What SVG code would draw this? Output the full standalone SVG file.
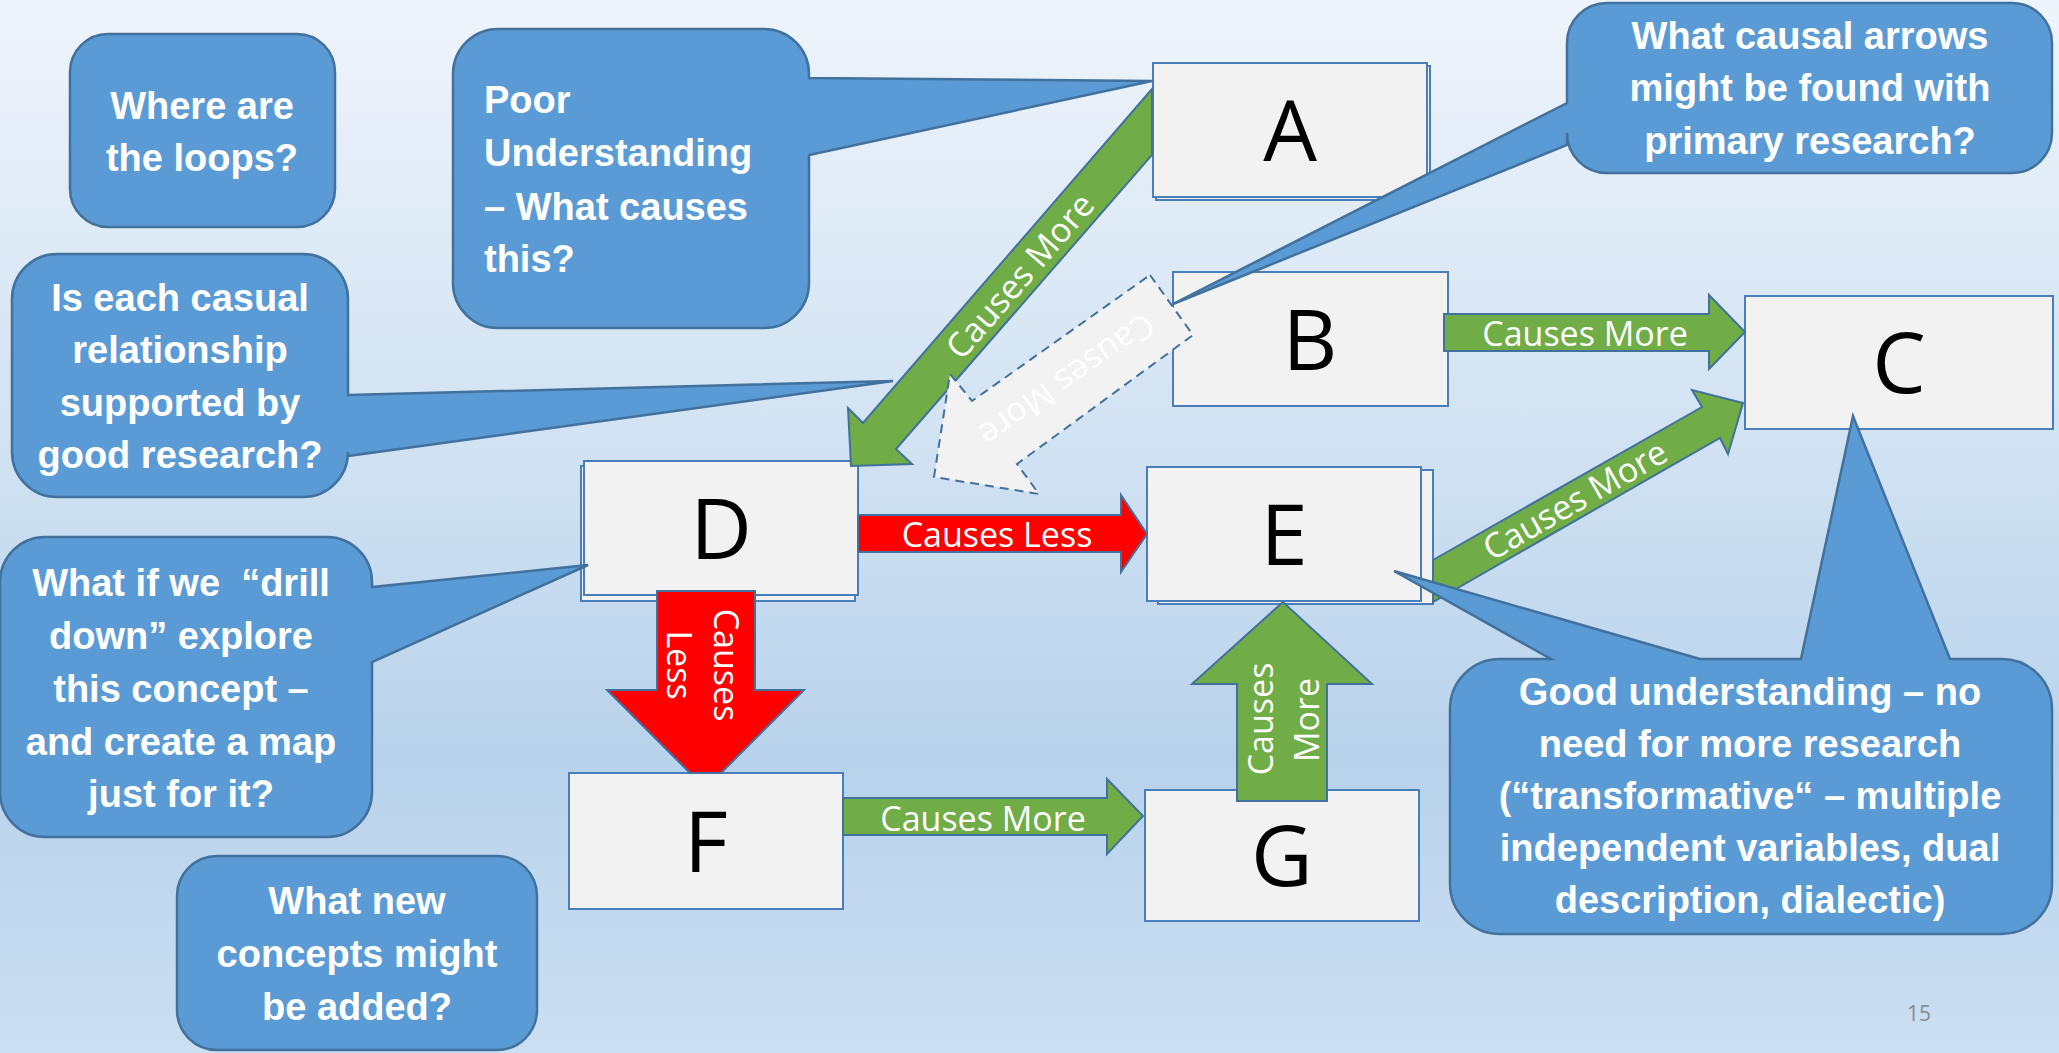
<svg xmlns="http://www.w3.org/2000/svg" width="2059" height="1053" viewBox="0 0 2059 1053">
<defs>
<linearGradient id="bg" x1="0" y1="0" x2="0" y2="1">
<stop offset="0" stop-color="#eef4fb"/>
<stop offset="0.45" stop-color="#cfe1f2"/>
<stop offset="0.72" stop-color="#b8d2eb"/>
<stop offset="1" stop-color="#cbdff2"/>
</linearGradient>
<style>
.node{fill:#f2f2f2;stroke:#4a7ebb;stroke-width:2}
.lbl{font-family:"Open Sans","Liberation Sans",sans-serif;font-size:85px;fill:#000;text-anchor:middle}
.green{fill:#70ad47;stroke:#41719c;stroke-width:2;stroke-linejoin:miter}
.red{fill:#ff0000;stroke:#41719c;stroke-width:2}
.dash{fill:#f2f2f2;stroke:#41719c;stroke-width:2;stroke-dasharray:9 6}
.at{font-family:"Open Sans","Liberation Sans",sans-serif;font-size:34px;fill:#fff;text-anchor:middle}
.call{fill:#5b9bd5;stroke:#41719c;stroke-width:2.5}
.ct{font-family:"Liberation Sans",Arial,sans-serif;font-weight:bold;font-size:38px;fill:#fff;text-anchor:middle}
.ctl{font-family:"Liberation Sans",Arial,sans-serif;font-weight:bold;font-size:38px;fill:#fff}
</style>
</defs>
<rect x="0" y="0" width="2059" height="1053" fill="url(#bg)"/>

<g id="nodes">
<g id="node-A">
<rect class="node" x="1156" y="66" width="274" height="134"/>
<rect class="node" x="1153" y="63" width="274" height="134"/>
<text class="lbl" x="1290" y="161">A</text>
</g>
<g id="node-B">
<rect class="node" x="1173" y="272" width="275" height="134"/>
<text class="lbl" x="1310" y="370">B</text>
</g>
<g id="node-C">
<rect class="node" x="1745" y="296" width="308" height="133"/>
<text class="lbl" x="1899" y="393">C</text>
</g>
<g id="node-D">
<rect class="node" x="581" y="466" width="274" height="135"/>
<rect class="node" x="584" y="461" width="274" height="134"/>
<text class="lbl" x="721" y="559">D</text>
</g>
<g id="node-E">
<rect class="node" x="1158" y="470" width="275" height="134"/>
<rect class="node" x="1147" y="467" width="274" height="134"/>
<text class="lbl" x="1284" y="565">E</text>
</g>
<g id="node-F">
<rect class="node" x="569" y="773" width="274" height="136"/>
<text class="lbl" x="706" y="872">F</text>
</g>
<g id="node-G">
<rect class="node" x="1145" y="790" width="274" height="131"/>
<text class="lbl" x="1282" y="886">G</text>
</g>
</g>

<g id="connectors">
<g id="A-D">
<polygon class="green" points="1152,89 863,423 848,408 851,466 912,464 896,449 1152,155"/>
<text class="at" font-size="35" transform="translate(1020,276) rotate(-49.1)" y="12">Causes More</text>
</g>
<g id="B-D">
<polygon class="dash" points="1150,275 1193,335 1017,464 1039,494 934,477 950,374 972,401"/>
<text class="at" font-size="35" transform="translate(1067,380) rotate(145)" y="12">Causes More</text>
</g>
<g id="B-C">
<polygon class="green" points="1444,314 1709,314 1709,295 1745,332 1709,369 1709,351 1444,351"/>
<text class="at" x="1585" y="346">Causes More</text>
</g>
<g id="D-E">
<polygon class="red" points="858,515 1121,515 1121,495 1147,534 1121,572 1121,552 858,552"/>
<text class="at" font-size="33" x="997" y="547">Causes Less</text>
</g>
<g id="E-C">
<polygon class="green" points="1433,560 1702,407 1692,390 1743,403 1728,454 1720,438 1433,602"/>
<text class="at" font-size="35" transform="translate(1575,500) rotate(-29.8)" y="12">Causes More</text>
</g>
<g id="D-F">
<polygon class="red" points="657,591 755,591 755,690 804,690 721,773 690,773 607,690 657,690"/>
<text class="at" font-size="33" transform="translate(714,665) rotate(90)">Causes</text>
<text class="at" font-size="33" transform="translate(667,665) rotate(90)">Less</text>
</g>
<g id="F-G">
<polygon class="green" points="843,798 1107,798 1107,779 1143,816 1107,854 1107,835 843,835"/>
<text class="at" x="983" y="831">Causes More</text>
</g>
<g id="G-E">
<polygon class="green" points="1237,801 1237,684 1192,684 1283,602 1372,684 1327,684 1327,801"/>
<text class="at" font-size="33" transform="translate(1273,719) rotate(-90)">Causes</text>
<text class="at" font-size="33" transform="translate(1319,720) rotate(-90)">More</text>
</g>
</g>

<g id="callouts">
<g id="q-loops">
<rect class="call" x="70" y="34" width="265" height="193" rx="38" ry="38"/>
<text class="ct" x="202" y="119">Where are</text>
<text class="ct" x="202" y="171">the loops?</text>
</g>
<g id="q-poor">
<path class="call" d="M498,29 H764 A45,45 0 0 1 809,74 V78 L1152,81 L809,155 V283 A45,45 0 0 1 764,328 H498 A45,45 0 0 1 453,283 V74 A45,45 0 0 1 498,29 Z"/>
<text class="ctl" x="484" y="113">Poor</text>
<text class="ctl" x="484" y="166">Understanding</text>
<text class="ctl" x="484" y="220">– What causes</text>
<text class="ctl" x="484" y="272">this?</text>
</g>
<g id="q-research">
<path class="call" d="M57,254 H303 A45,45 0 0 1 348,299 V395 L893,381 L348,456 V452 A45,45 0 0 1 303,497 H57 A45,45 0 0 1 12,452 V299 A45,45 0 0 1 57,254 Z"/>
<text class="ct" x="180" y="311">Is each casual</text>
<text class="ct" x="180" y="363">relationship</text>
<text class="ct" x="180" y="416">supported by</text>
<text class="ct" x="180" y="468">good research?</text>
</g>
<g id="q-drill">
<path class="call" d="M45,537 H327 A45,45 0 0 1 372,582 V587 L588,565 L372,662 V792 A45,45 0 0 1 327,837 H45 A45,45 0 0 1 0,792 V582 A45,45 0 0 1 45,537 Z"/>
<text class="ct" x="181" y="596">What if we&#160; “drill</text>
<text class="ct" x="181" y="649">down” explore</text>
<text class="ct" x="181" y="702">this concept –</text>
<text class="ct" x="181" y="755">and create a map</text>
<text class="ct" x="181" y="807">just for it?</text>
</g>
<g id="q-new">
<rect class="call" x="177" y="856" width="360" height="194" rx="40" ry="40"/>
<text class="ct" x="357" y="914">What new</text>
<text class="ct" x="357" y="967">concepts might</text>
<text class="ct" x="357" y="1020">be added?</text>
</g>
<g id="q-causal">
<path class="call" d="M1607,3 H2012 A40,40 0 0 1 2052,43 V133 A40,40 0 0 1 2012,173 H1607 A40,40 0 0 1 1567,133 V145 L1173,304 L1567,103 V43 A40,40 0 0 1 1607,3 Z"/>
<text class="ct" x="1810" y="49">What causal arrows</text>
<text class="ct" x="1810" y="101">might be found with</text>
<text class="ct" x="1810" y="154">primary research?</text>
</g>
<g id="q-good">
<path class="call" d="M1500,659 H1551 L1394,571 L1700,659 H1801 L1853,416 L1950,659 H2002 A50,50 0 0 1 2052,709 V884 A50,50 0 0 1 2002,934 H1500 A50,50 0 0 1 1450,884 V709 A50,50 0 0 1 1500,659 Z"/>
<text class="ct" x="1750" y="705">Good understanding – no</text>
<text class="ct" x="1750" y="757">need for more research</text>
<text class="ct" x="1750" y="809">(“transformative“ – multiple</text>
<text class="ct" x="1750" y="861">independent variables, dual</text>
<text class="ct" x="1750" y="913">description, dialectic)</text>
</g>
</g>

<text x="1919" y="1021" font-family="Open Sans, Liberation Sans, sans-serif" font-size="21" fill="#8c8c8c" text-anchor="middle">15</text>
</svg>
